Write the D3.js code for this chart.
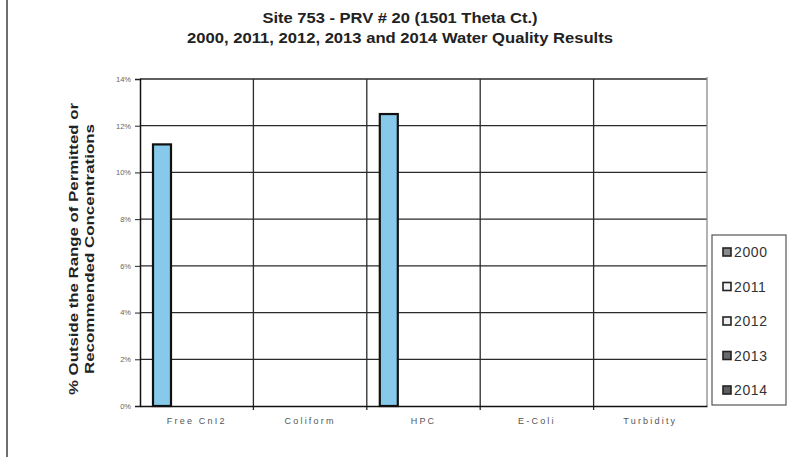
<!DOCTYPE html>
<html><head><meta charset="utf-8">
<script src="https://cdn.jsdelivr.net/npm/d3@7"></script>
<style>body{margin:0;background:#fff}svg{display:block}</style>
</head><body>
<svg id="c" width="793" height="457"></svg>
<script>
const categories = ["Free Cl2", "Coliform", "HPC", "E-Coli", "Turbidity"];
const categoryLabels = ["Free CnI2", "Coliform", "HPC", "E-Coli", "Turbidity"];
const years = ["2000", "2011", "2012", "2013", "2014"];
const v2000 = [11.2, 0, 12.5, 0, 0];
const v2011 = [0, 0, 0, 0, 0];
const v2012 = [0, 0, 0, 0, 0];
const v2013 = [0, 0, 0, 0, 0];
const v2014 = [0, 0, 0, 0, 0];
const yTicks = [0, 2, 4, 6, 8, 10, 12, 14];
const titleLines = ["Site 753 - PRV # 20 (1501  Theta Ct.)", "2000, 2011, 2012, 2013 and 2014 Water Quality Results"];
const yTitleLines = ["% Outside the Range of Permitted or", "Recommended Concentrations"];
const seriesColors = ["#86c9ea", "#f4f4f4", "#e6e6e6", "#5a5a5a", "#555555"];
const legendSwatch = ["#8a8a8a", "#f4f4f4", "#eeeeee", "#6a6a6a", "#5e5e5e"];

const series = [v2000, v2011, v2012, v2013, v2014];
const svg = d3.select("#c");
const L = 140, R = 707, T = 79, B = 406;
const FONT = "Liberation Sans, Arial, sans-serif";

// left page border
svg.append("line").attr("x1", 7).attr("x2", 7).attr("y1", 0).attr("y2", 457)
  .attr("stroke", "#6e6e6e").attr("stroke-width", 2);

const x0 = d3.scaleBand().domain(categories).range([L, R]).padding(0);
const x1 = d3.scaleBand().domain(years).range([12, 112]).padding(0);
const y = d3.scaleLinear().domain([0, 14]).range([B, T]);

// horizontal gridlines
svg.append("g").selectAll("line").data(yTicks.slice(1)).join("line")
  .attr("x1", L).attr("x2", R).attr("y1", d => y(d)).attr("y2", d => y(d))
  .attr("stroke", "#2a2a2a").attr("stroke-width", 1.3);
// vertical category separators
svg.append("g").selectAll("line").data(categories.slice(1)).join("line")
  .attr("x1", d => x0(d)).attr("x2", d => x0(d)).attr("y1", T).attr("y2", B + 4)
  .attr("stroke", "#2a2a2a").attr("stroke-width", 1.3);
// right plot border
svg.append("line").attr("x1", R).attr("x2", R).attr("y1", T - 2).attr("y2", B)
  .attr("stroke", "#8a8a8a").attr("stroke-width", 1.3);

// bars
const bars = [];
categories.forEach((c, i) => years.forEach((yr, j) => {
  if (series[j][i] > 0) bars.push({c, yr, v: series[j][i], j});
}));
svg.append("g").selectAll("rect").data(bars).join("rect")
  .attr("x", d => x0(d.c) + x1(d.yr) + 1)
  .attr("width", x1.bandwidth() - 2)
  .attr("y", d => y(d.v))
  .attr("height", d => y(0) - y(d.v))
  .attr("fill", d => seriesColors[d.j])
  .attr("stroke", "#111").attr("stroke-width", 2.2);

// y axis
const yAxis = d3.axisLeft(y).tickValues(yTicks).tickFormat(d => d + "%").tickSize(5).tickPadding(4);
const gy = svg.append("g").attr("transform", `translate(${L},0)`).call(yAxis);
gy.select(".domain").attr("stroke", "#111").attr("stroke-width", 1.5);
gy.selectAll(".tick line").attr("stroke", "#222");
gy.selectAll("text").attr("font-family", FONT).attr("font-size", 7.5).attr("fill", "#666");

// x axis
const xAxis = d3.axisBottom(x0).tickFormat((d, i) => categoryLabels[i]).tickSize(0).tickPadding(12);
const gx = svg.append("g").attr("transform", `translate(0,${B})`).call(xAxis);
gx.select(".domain").attr("stroke", "#111").attr("stroke-width", 1.5);
gx.selectAll("text").attr("font-family", FONT).attr("font-size", 9).attr("fill", "#555").attr("letter-spacing", 2.2);

// titles
const titleLen = [275, 426];
svg.append("g").selectAll("text").data(titleLines).join("text")
  .attr("x", 400).attr("y", (d, i) => 23 + i * 20).attr("text-anchor", "middle")
  .attr("font-family", FONT).attr("font-weight", "bold")
  .attr("font-size", 14).attr("fill", "#222")
  .attr("textLength", (d, i) => titleLen[i]).attr("lengthAdjust", "spacingAndGlyphs")
  .text(d => d);

const yTitleLen = [292, 250];
svg.append("g").selectAll("text").data(yTitleLines).join("text")
  .attr("transform", (d, i) => `translate(${78 + i * 16},249) rotate(-90)`)
  .attr("text-anchor", "middle")
  .attr("font-family", FONT).attr("font-weight", "bold")
  .attr("font-size", 13.5).attr("fill", "#222")
  .attr("textLength", (d, i) => yTitleLen[i]).attr("lengthAdjust", "spacingAndGlyphs")
  .text(d => d);

// legend
const lg = svg.append("g");
lg.append("rect").attr("x", 712).attr("y", 235).attr("width", 74).attr("height", 170)
  .attr("fill", "#fff").attr("stroke", "#555").attr("stroke-width", 1.2);
const ly = d3.scalePoint().domain(years).range([252, 390]);
lg.selectAll("rect.sw").data(years).join("rect").attr("class", "sw")
  .attr("x", 723).attr("y", d => ly(d) - 4).attr("width", 8).attr("height", 8)
  .attr("fill", (d, i) => legendSwatch[i]).attr("stroke", "#222").attr("stroke-width", 1.6);
lg.selectAll("text").data(years).join("text")
  .attr("x", 734).attr("y", d => ly(d) + 5)
  .attr("font-family", FONT).attr("font-size", 14).attr("letter-spacing", 0.6)
  .attr("fill", "#333").text(d => d);
</script>
</body></html>
